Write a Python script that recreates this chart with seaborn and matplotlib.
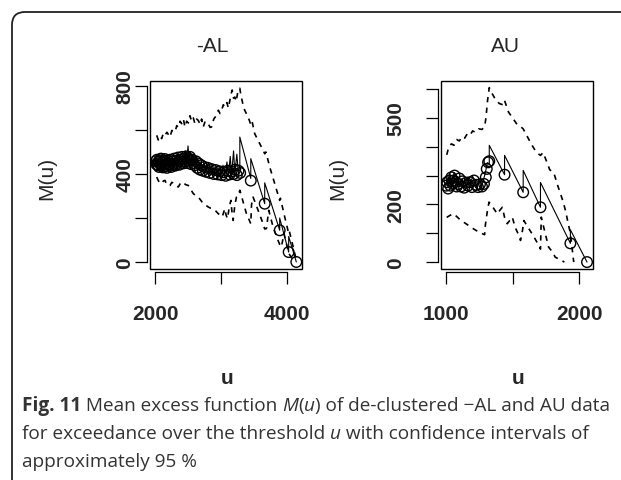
import matplotlib
matplotlib.use("Agg")
import matplotlib.pyplot as plt
from matplotlib.patches import Rectangle, FancyBboxPatch
from matplotlib.transforms import IdentityTransform
import seaborn as sns

# ---------------- -AL panel ----------------
# mean excess line (sawtooth)
al_line_u = [2010, 2030, 2045, 2065, 2080, 2100, 2120, 2140, 2160, 2180,
             2200, 2220, 2240, 2260, 2280, 2300, 2320, 2340, 2360, 2380,
             2400, 2420, 2440, 2460, 2480, 2500, 2515, 2535, 2555, 2575,
             2600, 2620, 2640, 2660, 2680, 2700, 2720, 2745, 2770, 2795,
             2820, 2850, 2880, 2910, 2940, 2970, 3000, 3030, 3060, 3090,
             3110, 3140, 3160, 3190, 3210, 3240, 3260, 3285, 3285, 3451,
             3451, 3662, 3662, 3889, 3889, 4025, 4025, 4141]
al_line_m = [455, 480, 440, 475, 435, 472, 430, 468, 425, 470,
             435, 478, 440, 482, 432, 470, 440, 485, 445, 488,
             450, 495, 455, 505, 462, 528, 465, 500, 450, 490,
             440, 480, 425, 465, 415, 455, 410, 450, 405, 445,
             400, 440, 395, 435, 390, 430, 390, 440, 395, 455,
             390, 480, 395, 505, 405, 490, 415, 425, 568, 380,
             470, 265, 360, 144, 200, 45, 116, 0]
# circles
al_pt_u = [2010, 2020, 2030, 2040, 2050, 2060, 2070, 2080, 2090, 2100,
           2110, 2120, 2130, 2140, 2150, 2160, 2170, 2180, 2190, 2200,
           2215, 2230, 2245, 2260, 2275, 2290, 2305, 2320, 2335, 2350,
           2365, 2380, 2395, 2410, 2425, 2440, 2455, 2470, 2485, 2500,
           2515, 2530, 2545, 2560, 2580, 2600, 2620, 2640, 2660, 2680,
           2700, 2725, 2750, 2775, 2800, 2830, 2860, 2890, 2920, 2950,
           2980, 3010, 3040, 3070, 3100, 3130, 3160, 3190, 3215, 3240,
           3265, 3290, 3451, 3662, 3889, 4025, 4141]
al_pt_m = [458, 445, 465, 440, 455, 432, 462, 445, 470, 438,
           452, 430, 460, 442, 468, 435, 455, 428, 462, 445,
           440, 465, 432, 458, 445, 470, 438, 460, 450, 475,
           442, 465, 455, 478, 448, 468, 458, 480, 450, 472,
           462, 478, 445, 465, 450, 440, 458, 428, 448, 420,
           440, 415, 432, 410, 428, 405, 422, 400, 418, 398,
           412, 395, 408, 392, 415, 398, 412, 400, 420, 395,
           415, 405, 370, 265, 144, 45, 0]
# upper / lower confidence bounds
al_up_u = [2025, 2050, 2075, 2101, 2126, 2151, 2180, 2227, 2255, 2302,
           2330, 2353, 2380, 2403, 2430, 2453, 2480, 2505, 2529, 2555,
           2580, 2605, 2630, 2655, 2685, 2706, 2731, 2760, 2806, 2835,
           2857, 2890, 2932, 2960, 2985, 3008, 3035, 3058, 3090, 3110,
           3134, 3150, 3169, 3190, 3209, 3230, 3259, 3285, 3300, 3330,
           3360, 3411, 3451, 3470, 3511, 3587, 3663, 3680, 3738, 3814,
           3889, 3900, 3965, 4025, 4035, 4106, 4141]
al_up_m = [576, 555, 572, 561, 585, 576, 590, 568, 598, 591,
           620, 612, 640, 629, 650, 614, 640, 632, 665, 640,
           655, 629, 650, 644, 625, 650, 614, 640, 629, 612,
           614, 650, 667, 690, 675, 689, 715, 705, 725, 700,
           735, 760, 782, 745, 750, 730, 782, 790, 760, 720,
           689, 659, 625, 640, 583, 538, 492, 500, 432, 356,
           280, 290, 205, 130, 140, 53, 8]
al_lo_u = [2025, 2050, 2075, 2101, 2126, 2151, 2180, 2227, 2255, 2302,
           2330, 2353, 2380, 2428, 2460, 2504, 2540, 2580, 2620, 2655,
           2690, 2731, 2770, 2806, 2840, 2882, 2920, 2957, 2990, 3018,
           3058, 3075, 3098, 3125, 3149, 3165, 3184, 3210, 3234, 3260,
           3285, 3310, 3335, 3385, 3451, 3462, 3486, 3562, 3637, 3662,
           3688, 3723, 3789, 3864, 3889, 3914, 3955, 4015, 4025, 4091,
           4126]
al_lo_m = [386, 370, 360, 356, 368, 371, 350, 348, 362, 356,
           345, 341, 355, 364, 352, 348, 330, 311, 300, 295,
           282, 265, 258, 250, 245, 242, 232, 220, 212, 205,
           242, 215, 197, 250, 280, 230, 189, 260, 295, 300,
           326, 300, 273, 220, 174, 260, 295, 235, 174, 150,
           152, 235, 159, 98, 80, 68, 129, 53, 40, 8,
           0]

# ---------------- AU panel ----------------
au_line_u = [1000, 1010, 1020, 1030, 1045, 1060, 1075, 1090, 1100, 1120,
             1140, 1160, 1180, 1200, 1225, 1250, 1265, 1280, 1290, 1300,
             1310, 1325, 1325, 1440, 1440, 1580, 1580, 1710, 1710, 1935,
             1935, 2060]
au_line_m = [270, 290, 265, 305, 270, 310, 275, 295, 262, 290,
             258, 295, 265, 298, 258, 280, 255, 285, 300, 320,
             345, 340, 405, 303, 370, 242, 318, 190, 276, 65,
             112, 0]
au_pt_u = [1000, 1008, 1016, 1024, 1032, 1040, 1048, 1056, 1064, 1072,
           1080, 1090, 1100, 1112, 1124, 1136, 1150, 1165, 1180, 1195,
           1210, 1225, 1240, 1255, 1270, 1285, 1299, 1306, 1316, 1325,
           1440, 1580, 1710, 1935, 2060]
au_pt_m = [265, 277, 255, 283, 265, 294, 272, 283, 300, 278,
           262, 271, 290, 262, 280, 258, 275, 265, 277, 260,
           283, 268, 260, 270, 262, 271, 294, 323, 346, 350,
           303, 242, 190, 65, 0]
au_up_u = [1005, 1020, 1040, 1060, 1080, 1100, 1120, 1140, 1160, 1180,
           1200, 1220, 1245, 1270, 1290, 1300, 1312, 1325, 1340, 1370,
           1400, 1430, 1440, 1470, 1500, 1530, 1560, 1580, 1600, 1640,
           1680, 1710, 1730, 1780, 1810, 1840, 1880, 1900, 1920, 1935,
           1945, 1960]
au_up_m = [372, 398, 410, 405, 425, 420, 435, 430, 445, 440,
           455, 450, 462, 460, 470, 500, 560, 605, 590, 565,
           550, 545, 560, 520, 500, 480, 470, 462, 445, 410,
           380, 370, 380, 320, 310, 265, 210, 175, 130, 100,
           60, 0]
au_lo_u = [1005, 1030, 1055, 1080, 1110, 1150, 1190, 1225, 1255, 1275,
           1290, 1296, 1310, 1323, 1345, 1370, 1386, 1405, 1423, 1440,
           1460, 1480, 1498, 1520, 1545, 1560, 1575, 1585, 1610, 1647,
           1670, 1697, 1710, 1716, 1740, 1771, 1800, 1821, 1860, 1890]
au_lo_m = [155, 162, 168, 158, 145, 133, 120, 110, 102, 98,
           95, 130, 175, 208, 195, 178, 167, 180, 190, 155,
           133, 145, 156, 120, 95, 75, 110, 144, 125, 98,
           80, 58, 45, 156, 110, 52, 35, 17, 8, 0]

titles = ["-AL", "AU"]
al_xticks, al_xlabels = [2000, 3000, 4000], ["2000", "", "4000"]
al_yticks, al_ylabels = [0, 200, 400, 600, 800], ["0", "", "400", "", "800"]
au_xticks, au_xlabels = [1000, 1500, 2000], ["1000", "", "2000"]
au_yticks, au_ylabels = [0, 100, 200, 300, 400, 500, 600], ["0", "", "200", "", "", "500", ""]

sns.set_style("white")
plt.rcParams['font.family'] = ['Liberation Sans', 'DejaVu Sans']

W, H = 621, 481
fig = plt.figure(figsize=(W / 100, H / 100), dpi=100)


def px_axes(x0, x1, y0, y1):
    return fig.add_axes([x0 / W, 1 - y1 / H, (x1 - x0) / W, (y1 - y0) / H])


def panel(ax, line, pts, up, lo, xlim, ylim, xt, xl, yt, yl, ypad):
    dash = (0, (3.2, 3.2))
    sns.lineplot(x=up[0], y=up[1], ax=ax, sort=False, estimator=None,
                 color='black', lw=1.2, linestyle=dash)
    sns.lineplot(x=lo[0], y=lo[1], ax=ax, sort=False, estimator=None,
                 color='black', lw=1.2, linestyle=dash)
    sns.lineplot(x=line[0], y=line[1], ax=ax, sort=False, estimator=None,
                 color='black', lw=0.8)
    sns.scatterplot(x=pts[0], y=pts[1], ax=ax, marker='o', s=58,
                    facecolor='none', edgecolor='black', linewidth=1.0)
    ax.set_xlim(*xlim)
    ax.set_ylim(*ylim)
    ax.set_xlabel("")
    ax.set_ylabel("")
    ax.set_facecolor('white')
    # R style: axis line detached from the box, spanning the ticks
    for s in ['top', 'right']:
        ax.spines[s].set_visible(False)
    ax.spines['left'].set_position(('outward', 2.2))
    ax.spines['bottom'].set_position(('outward', 2.2))
    ax.spines['left'].set_bounds(yt[0], yt[-1])
    ax.spines['bottom'].set_bounds(xt[0], xt[-1])
    for s in ['left', 'bottom']:
        ax.spines[s].set_color('black')
        ax.spines[s].set_linewidth(0.9)
    ax.add_patch(Rectangle((0, 0), 1, 1, transform=ax.transAxes, fill=False,
                           ec='black', lw=1.0, clip_on=False))
    ax.tick_params(bottom=True, left=True, direction='out', length=8.6,
                   width=0.9, color='black', labelsize=15)
    ax.tick_params(axis='x', pad=14.5)
    ax.tick_params(axis='y', pad=ypad)
    ax.set_xticks(xt)
    ax.set_xticklabels(xl, fontsize=15, fontweight='bold')
    ax.set_yticks(yt)
    ax.set_yticklabels(yl, fontsize=15, fontweight='bold', rotation=90, va='center')


ax1 = px_axes(150, 302, 82, 270)
panel(ax1, (al_line_u, al_line_m), (al_pt_u, al_pt_m), (al_up_u, al_up_m),
      (al_lo_u, al_lo_m), (1924, 4227), (-32, 823),
      al_xticks, al_xlabels, al_yticks, al_ylabels, 0.5)
ax2 = px_axes(441, 593, 82, 270)
panel(ax2, (au_line_u, au_line_m), (au_pt_u, au_pt_m), (au_up_u, au_up_m),
      (au_lo_u, au_lo_m), (962, 2105), (-24, 628),
      au_xticks, au_xlabels, au_yticks, au_ylabels, 15)

# titles and axis labels (placed in pixel positions like the R output)
for title, cx in zip(titles, [212, 505]):
    fig.text(cx / W, 1 - 47 / H, title, ha='center', va='center', fontsize=15)
for cx in [47, 338]:
    fig.text(cx / W, 1 - 178 / H, "M(u)", ha='center', va='center',
             fontsize=15, rotation=90)
for cx in [227, 518]:
    fig.text(cx / W, 1 - 378 / H, "u", ha='center', va='center',
             fontsize=15, fontweight='bold')

# rounded frame around the figure
fig.add_artist(FancyBboxPatch((12, -12), 700, 480,
                              boxstyle="round,pad=0,rounding_size=13",
                              transform=IdentityTransform(), fill=False,
                              ec='#222222', lw=1.3))

# caption with mixed styles
cap_font = ['Open Sans', 'DejaVu Sans']
cap_color = '#333333'
renderer = fig.canvas.get_renderer()


def text_width(s, size, **kw):
    t = fig.text(0, 0, s + "|", fontsize=size, family=cap_font, **kw)
    bar = fig.text(0, 0, "|", fontsize=size, family=cap_font, **kw)
    w = t.get_window_extent(renderer).width - bar.get_window_extent(renderer).width
    t.remove()
    bar.remove()
    return w


line1 = [("Fig. 11", dict(fontweight='bold')), (" Mean excess function ", {}),
         ("M", dict(fontstyle='italic')), ("(", {}), ("u", dict(fontstyle='italic')),
         (") of de-clustered \u2212AL and AU data", {})]
line2 = [("for exceedance over the threshold ", {}), ("u", dict(fontstyle='italic')),
         (" with confidence intervals of", {})]
line3 = [("approximately 95 %", {})]

base = 11
w1 = sum(text_width(s, base, **kw) for s, kw in line1)
cap_size = base * 590 / w1

for pieces, yb in zip([line1, line2, line3], [411, 439, 467]):
    x = 22
    for s, kw in pieces:
        fig.text(x / W, 1 - yb / H, s, fontsize=cap_size, family=cap_font,
                 color=cap_color, va='baseline', ha='left', **kw)
        x += text_width(s, cap_size, **kw)

fig.savefig("out.png", dpi=100, facecolor='white')
